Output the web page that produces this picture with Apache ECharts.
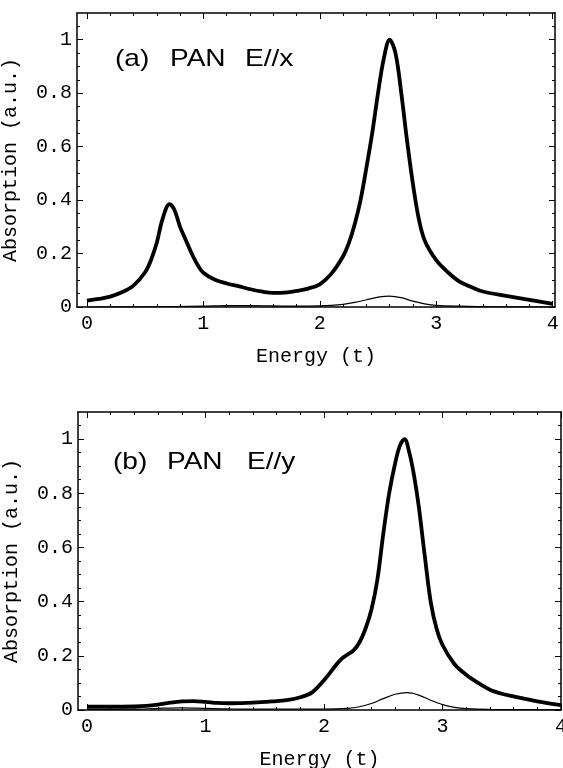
<!DOCTYPE html>
<html>
<head>
<meta charset="utf-8">
<script src="https://cdn.jsdelivr.net/npm/echarts@6/dist/echarts.min.js"></script>
<style>
html, body { margin: 0; padding: 0; background: #fff; }
#chart { width: 563px; height: 768px; }
</style>
</head>
<body>
<div id="chart"></div>
<script>
// tick positions
var xMajor = [0, 1, 2, 3, 4];
var xMinor = [0.2, 0.4, 0.6, 0.8, 1.2, 1.4, 1.6, 1.8, 2.2, 2.4, 2.6, 2.8, 3.2, 3.4, 3.6, 3.8];
var yMajor = [0, 0.2, 0.4, 0.6, 0.8, 1];
var yMinor = [0.05, 0.1, 0.15, 0.25, 0.3, 0.35, 0.45, 0.5, 0.55, 0.65, 0.7, 0.75, 0.85, 0.9, 0.95, 1.05];

// (a) PAN E//x  - thick curve
var xA = [0, 0.1, 0.2, 0.3, 0.4, 0.5, 0.55, 0.6, 0.65, 0.71, 0.75, 0.8, 0.85, 0.9, 0.95, 1.0, 1.1, 1.2, 1.3, 1.4, 1.5, 1.6, 1.7, 1.8, 1.9, 2.0, 2.1, 2.2, 2.25, 2.3, 2.35, 2.4, 2.45, 2.5, 2.55, 2.6, 2.65, 2.7, 2.75, 2.8, 2.85, 2.9, 3.0, 3.1, 3.2, 3.3, 3.4, 3.6, 3.8, 4.0];
var yA = [0.024, 0.03, 0.039, 0.055, 0.08, 0.13, 0.175, 0.24, 0.33, 0.385, 0.365, 0.30, 0.25, 0.20, 0.158, 0.128, 0.102, 0.088, 0.078, 0.067, 0.058, 0.053, 0.054, 0.06, 0.069, 0.085, 0.125, 0.19, 0.24, 0.31, 0.40, 0.52, 0.65, 0.80, 0.93, 1.0, 0.95, 0.80, 0.62, 0.46, 0.33, 0.25, 0.175, 0.13, 0.095, 0.075, 0.058, 0.042, 0.027, 0.012];
// (a) thin curve
var xA2 = [0, 0.5, 1.0, 1.2, 1.4, 1.6, 1.8, 2.0, 2.1, 2.2, 2.3, 2.4, 2.5, 2.6, 2.7, 2.8, 2.9, 3.0, 3.2, 3.5, 4.0];
var yA2 = [0.0, 0.001, 0.003, 0.005, 0.005, 0.004, 0.003, 0.004, 0.006, 0.01, 0.017, 0.027, 0.037, 0.041, 0.035, 0.022, 0.012, 0.006, 0.003, 0.001, 0];

// (b) PAN E//y  - thick curve
var xB = [0, 0.2, 0.4, 0.5, 0.6, 0.7, 0.8, 0.9, 1.0, 1.1, 1.2, 1.4, 1.6, 1.7, 1.8, 1.9, 2.0, 2.1, 2.15, 2.2, 2.25, 2.3, 2.35, 2.4, 2.45, 2.5, 2.55, 2.6, 2.64, 2.68, 2.72, 2.76, 2.8, 2.85, 2.9, 2.95, 3.0, 3.1, 3.2, 3.3, 3.4, 3.5, 3.6, 3.8, 4.0];
var yB = [0.012, 0.012, 0.013, 0.015, 0.02, 0.027, 0.032, 0.033, 0.03, 0.026, 0.025, 0.027, 0.033, 0.037, 0.047, 0.065, 0.11, 0.165, 0.19, 0.205, 0.22, 0.25, 0.30, 0.37, 0.48, 0.65, 0.80, 0.91, 0.975, 1.0, 0.95, 0.865, 0.75, 0.57, 0.40, 0.30, 0.24, 0.17, 0.13, 0.1, 0.075, 0.06, 0.05, 0.032, 0.018];
// (b) thin curve
var xB2 = [0, 0.4, 0.6, 0.8, 1.0, 1.2, 1.6, 2.0, 2.2, 2.3, 2.4, 2.5, 2.6, 2.7, 2.8, 2.9, 3.0, 3.1, 3.2, 3.4, 4.0];
var yB2 = [0.002, 0.003, 0.006, 0.008, 0.006, 0.004, 0.003, 0.003, 0.006, 0.012, 0.024, 0.042, 0.058, 0.064, 0.055, 0.036, 0.02, 0.01, 0.005, 0.002, 0.001];

function pairs(xs, ys) {
    return xs.map(function (x, i) { return [x, ys[i]]; });
}

var mono = 'Liberation Mono';
var black = '#000';

function xAxes(g, min, max, name) {
    var base = { gridIndex: g, type: 'value', min: min, max: max, splitLine: { show: false } };
    return [
        Object.assign({}, base, {
            position: 'bottom',
            axisLine: { onZero: false, lineStyle: { color: black, width: 1.5 } },
            axisTick: { inside: true, length: 6, customValues: xMajor, lineStyle: { color: black, width: 1 } },
            axisLabel: { customValues: xMajor, margin: 7, fontFamily: mono, fontSize: 20, color: black },
            name: name, nameLocation: 'middle', nameGap: 40,
            nameTextStyle: { fontFamily: mono, fontSize: 20, color: black }
        }),
        Object.assign({}, base, {
            position: 'bottom',
            axisLine: { show: false, onZero: false },
            axisTick: { inside: true, length: 3, customValues: xMinor, lineStyle: { color: black, width: 1 } },
            axisLabel: { show: false }
        }),
        Object.assign({}, base, {
            position: 'top',
            axisLine: { onZero: false, lineStyle: { color: black, width: 1.5 } },
            axisTick: { inside: true, length: 6, customValues: xMajor, lineStyle: { color: black, width: 1 } },
            axisLabel: { show: false }
        }),
        Object.assign({}, base, {
            position: 'top',
            axisLine: { show: false, onZero: false },
            axisTick: { inside: true, length: 3, customValues: xMinor, lineStyle: { color: black, width: 1 } },
            axisLabel: { show: false }
        })
    ];
}

function yAxes(g, name) {
    var base = { gridIndex: g, type: 'value', min: 0, max: 1.1, splitLine: { show: false } };
    return [
        Object.assign({}, base, {
            position: 'left',
            axisLine: { onZero: false, lineStyle: { color: black, width: 1.5 } },
            axisTick: { inside: true, length: 6, customValues: yMajor, lineStyle: { color: black, width: 1 } },
            axisLabel: { customValues: yMajor, margin: 5, fontFamily: mono, fontSize: 20, color: black },
            name: name, nameLocation: 'middle', nameGap: 56, nameRotate: 90,
            nameTextStyle: { fontFamily: mono, fontSize: 20, color: black }
        }),
        Object.assign({}, base, {
            position: 'left',
            axisLine: { show: false, onZero: false },
            axisTick: { inside: true, length: 3, customValues: yMinor, lineStyle: { color: black, width: 1 } },
            axisLabel: { show: false }
        }),
        Object.assign({}, base, {
            position: 'right',
            axisLine: { onZero: false, lineStyle: { color: black, width: 1.5 } },
            axisTick: { inside: true, length: 6, customValues: yMajor, lineStyle: { color: black, width: 1 } },
            axisLabel: { show: false }
        }),
        Object.assign({}, base, {
            position: 'right',
            axisLine: { show: false, onZero: false },
            axisTick: { inside: true, length: 3, customValues: yMinor, lineStyle: { color: black, width: 1 } },
            axisLabel: { show: false }
        })
    ];
}

function curve(data, xi, yi, width) {
    return {
        type: 'line', data: data, xAxisIndex: xi, yAxisIndex: yi,
        showSymbol: false, smooth: 0.35,
        lineStyle: { color: black, width: width }, silent: true, animation: false
    };
}

function label(text, x, y) {
    return {
        type: 'text', x: x, y: y, scaleX: 1.17,
        style: { text: text, font: '24px "Liberation Sans"', fill: black, textVerticalAlign: 'top' }
    };
}

var chart = echarts.init(document.getElementById('chart'));

var option = {
    animation: false,
    backgroundColor: '#fff',
    grid: [
        { left: 77, top: 13, width: 478, height: 294, outerBoundsMode: 'none' },
        { left: 78, top: 412, width: 483, height: 298, outerBoundsMode: 'none' }
    ],
    xAxis: xAxes(0, -0.085, 4.02, 'Energy (t)').concat(xAxes(1, -0.076, 4.0, 'Energy (t)')),
    yAxis: yAxes(0, 'Absorption (a.u.)').concat(yAxes(1, 'Absorption (a.u.)')),
    series: [
        curve(pairs(xA2, yA2), 0, 0, 1.2),
        curve(pairs(xA, yA), 0, 0, 3.8),
        curve(pairs(xB2, yB2), 4, 4, 1.2),
        curve(pairs(xB, yB), 4, 4, 3.8)
    ],
    graphic: [
        label('(a)', 115, 47),
        label('PAN', 170, 47),
        label('E//x', 245, 47),
        label('(b)', 113, 450),
        label('PAN', 167, 450),
        label('E//y', 247, 450)
    ]
};

chart.setOption(option);
</script>
</body>
</html>
